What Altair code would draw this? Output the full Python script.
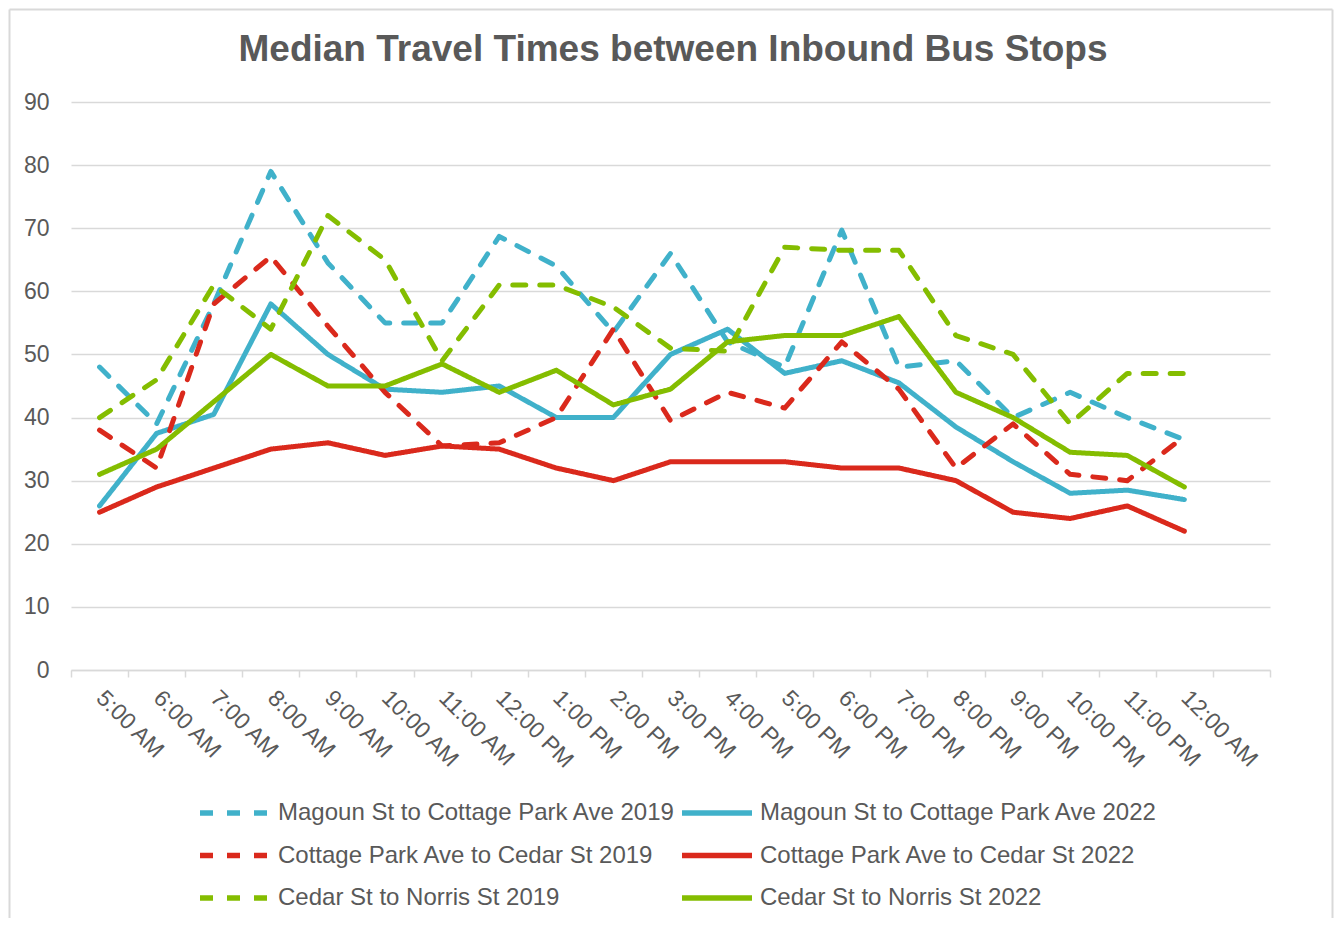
import json
import altair as alt
import pandas as pd

title_text = "Median Travel Times between Inbound Bus Stops"

hours = ["5:00 AM", "6:00 AM", "7:00 AM", "8:00 AM", "9:00 AM", "10:00 AM",
         "11:00 AM", "12:00 PM", "1:00 PM", "2:00 PM", "3:00 PM", "4:00 PM",
         "5:00 PM", "6:00 PM", "7:00 PM", "8:00 PM", "9:00 PM", "10:00 PM",
         "11:00 PM", "12:00 AM"]

series_names = [
    "Magoun St to Cottage Park Ave 2019",
    "Magoun St to Cottage Park Ave 2022",
    "Cottage Park Ave to Cedar St 2019",
    "Cottage Park Ave to Cedar St 2022",
    "Cedar St to Norris St 2019",
    "Cedar St to Norris St 2022",
]

magoun_2019 = [48, 39, 58, 79, 64.5, 55, 55, 68.7, 64, 53.5, 66, 52, 48, 69.7, 48, 49, 40, 44, 40, 36.5]
magoun_2022 = [26, 37.5, 40.5, 58, 50, 44.5, 44, 45, 40, 40, 50, 54, 47, 49, 45.5, 38.5, 33, 28, 28.5, 27]
cottage_2019 = [38, 32, 58, 65.5, 54.5, 44, 35.5, 36, 40, 54, 39.5, 44, 41.5, 52, 44.5, 32, 39, 31, 30, 37]
cottage_2022 = [25, 29, 32, 35, 36, 34, 35.5, 35, 32, 30, 33, 33, 33, 32, 32, 30, 25, 24, 26, 22]
cedar_2019 = [40, 46, 61, 54, 72, 65, 49, 61, 61, 57.5, 51, 50.5, 67, 66.5, 66.5, 53, 50, 39, 47, 47]
cedar_2022 = [31, 35, 42.5, 50, 45, 45, 48.5, 44, 47.5, 42, 44.5, 52, 53, 53, 56, 44, 40, 34.5, 34, 29]

series_values = [magoun_2019, magoun_2022, cottage_2019, cottage_2022, cedar_2019, cedar_2022]
series_colors = ["#40B1CA", "#40B1CA", "#DA291C", "#DA291C", "#84BD00", "#84BD00"]
dash_2019 = [13, 14]
solid = [1, 0]
series_dash = [dash_2019, solid, dash_2019, solid, dash_2019, solid]

rows = []
for name, vals in zip(series_names, series_values):
    for i, v in enumerate(vals):
        rows.append({"series": name, "idx": i, "hour": hours[i], "value": v})
df = pd.DataFrame(rows)

# legend is filled column by column: list 2019 series first, then 2022 series
legend_order = [0, 2, 4, 1, 3, 5]
legend_domain = [series_names[k] for k in legend_order]
legend_colors = [series_colors[k] for k in legend_order]
legend_dashes = [series_dash[k] for k in legend_order]

FONT = "Liberation Sans"
GREY = "#595959"
LINE_GREY = "#d9d9d9"
n_bands = len(hours) + 1
x_scale = alt.Scale(domain=[-0.5, n_bands - 0.5], nice=False, zero=False)

legend = alt.Legend(
    orient="none", legendX=126, legendY=699, columns=2, title=None,
    symbolType="stroke", symbolSize=4900, symbolStrokeWidth=5.5,
    labelFontSize=24, labelColor=GREY, labelFont=FONT, labelOffset=5,
    labelLimit=700, columnPadding=3, rowPadding=18.5, padding=0, clipHeight=24,
)

lines = alt.Chart(df).mark_line(strokeWidth=5, strokeCap="round", strokeJoin="round").encode(
    x=alt.X("idx:Q", scale=x_scale, axis=alt.Axis(
        orient="bottom", values=[i - 0.5 for i in range(n_bands + 1)],
        labels=False, grid=False, ticks=True, tickSize=7, tickWidth=1.5,
        tickColor=LINE_GREY, domainColor=LINE_GREY, domainWidth=1.5, title=None)),
    y=alt.Y("value:Q", scale=alt.Scale(domain=[0, 90], nice=False), axis=alt.Axis(
        values=list(range(0, 91, 10)), domain=False, ticks=False,
        gridColor=LINE_GREY, gridWidth=1.5, labelFontSize=23, labelColor=GREY,
        labelFont=FONT, labelPadding=22, title=None)),
    color=alt.Color("series:N", scale=alt.Scale(domain=legend_domain, range=legend_colors), legend=legend),
    strokeDash=alt.StrokeDash("series:N", scale=alt.Scale(domain=legend_domain, range=legend_dashes), legend=legend),
    detail="series:N",
)

label_expr = json.dumps(hours) + "[datum.value]"
labels_layer = alt.Chart(df).mark_point(opacity=0).encode(
    x=alt.X("idx:Q", scale=x_scale, axis=alt.Axis(
        orient="bottom", values=list(range(len(hours))), labelExpr=label_expr,
        ticks=False, domain=False, grid=False, labelAngle=45, labelAlign="left",
        labelBaseline="middle", labelPadding=24, labelFontSize=23, labelColor=GREY,
        labelFont=FONT, labelOverlap=False, title=None)),
)

frame = alt.Data(values=[{"k": 1}])
border_left = alt.Chart(frame).mark_rule(stroke=LINE_GREY, strokeWidth=2).encode(
    x=alt.value(-61.5), y=alt.value(-92.5), y2=alt.value(840))
border_right = alt.Chart(frame).mark_rule(stroke=LINE_GREY, strokeWidth=2).encode(
    x=alt.value(1261.5), y=alt.value(-92.5), y2=alt.value(840))
border_top = alt.Chart(frame).mark_rule(stroke=LINE_GREY, strokeWidth=2).encode(
    x=alt.value(-61.5), x2=alt.value(1261.5), y=alt.value(-92.5))

title = alt.Chart(alt.Data(values=[{"t": title_text}])).mark_text(
    fontSize=37, fontWeight="bold", color=GREY, font=FONT, align="center",
    baseline="alphabetic").encode(
    text="t:N", x=alt.value(602), y=alt.value(-41))

chart = alt.layer(border_left, border_right, border_top, lines, labels_layer, title).resolve_axis(
    x="independent").properties(
    width=1199, height=568,
    padding={"left": 63, "top": 94, "right": 64, "bottom": 248},
    autosize=alt.AutoSizeParams(type="none"),
).configure(background="white").configure_view(stroke=None)

chart.save("out.html", embed_options={"renderer": "svg", "actions": False})
